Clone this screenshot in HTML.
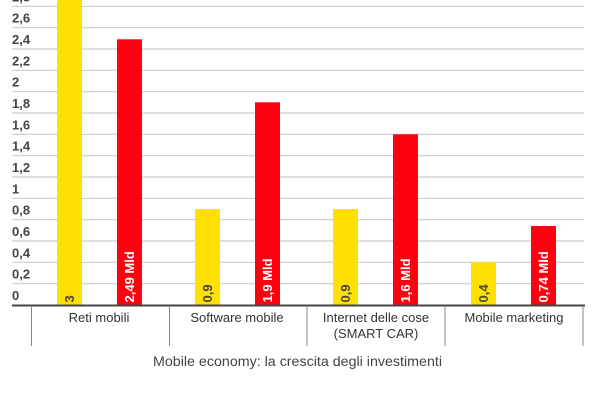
<!DOCTYPE html>
<html>
<head>
<meta charset="utf-8">
<style>
html,body{margin:0;padding:0;background:#fff;}
svg{display:block;}
text{font-family:"Liberation Sans",Arial,sans-serif;}
</style>
</head>
<body>
<svg width="600" height="400" viewBox="0 0 600 400" xmlns="http://www.w3.org/2000/svg">
<rect width="600" height="400" fill="#fff"/>
<!-- gridlines -->
<g stroke="#cccccc" stroke-width="1.2">
<line x1="12" y1="283.7" x2="584" y2="283.7"/>
<line x1="12" y1="262.3" x2="584" y2="262.3"/>
<line x1="12" y1="241" x2="584" y2="241"/>
<line x1="12" y1="219.7" x2="584" y2="219.7"/>
<line x1="12" y1="198.3" x2="584" y2="198.3"/>
<line x1="12" y1="177" x2="584" y2="177"/>
<line x1="12" y1="155.7" x2="584" y2="155.7"/>
<line x1="12" y1="134.3" x2="584" y2="134.3"/>
<line x1="12" y1="113" x2="584" y2="113"/>
<line x1="12" y1="91.7" x2="584" y2="91.7"/>
<line x1="12" y1="70.3" x2="584" y2="70.3"/>
<line x1="12" y1="49" x2="584" y2="49"/>
<line x1="12" y1="27.7" x2="584" y2="27.7"/>
<line x1="12" y1="6.3" x2="584" y2="6.3"/>
</g>
<!-- y labels -->
<g fill="#444" font-size="13" font-weight="bold">
<text x="12" y="300">0</text>
<text x="12" y="278.7">0,2</text>
<text x="12" y="257.3">0,4</text>
<text x="12" y="236">0,6</text>
<text x="12" y="214.7">0,8</text>
<text x="12" y="193.3">1</text>
<text x="12" y="172">1,2</text>
<text x="12" y="150.7">1,4</text>
<text x="12" y="129.3">1,6</text>
<text x="12" y="108">1,8</text>
<text x="12" y="86.7">2</text>
<text x="12" y="65.3">2,2</text>
<text x="12" y="44">2,4</text>
<text x="12" y="22.7">2,6</text>
<text x="12" y="1.3">2,8</text>
</g>
<!-- bars -->
<g>
<rect x="57" y="-15" width="25" height="320" fill="#ffe000"/>
<rect x="117" y="39.3" width="25" height="265.7" fill="#ff0010"/>
<rect x="195" y="209" width="25" height="96" fill="#ffe000"/>
<rect x="255" y="102.3" width="25" height="202.7" fill="#ff0010"/>
<rect x="333" y="209" width="25" height="96" fill="#ffe000"/>
<rect x="393" y="134.3" width="25" height="170.7" fill="#ff0010"/>
<rect x="471" y="262.3" width="25" height="42.7" fill="#ffe000"/>
<rect x="531" y="226" width="25" height="79" fill="#ff0010"/>
</g>
<!-- bar labels -->
<g font-size="13" font-weight="bold">
<text transform="translate(74,302.5) rotate(-90)" fill="#444">3</text>
<text transform="translate(134,302.5) rotate(-90)" fill="#fff">2,49 Mld</text>
<text transform="translate(212,302.5) rotate(-90)" fill="#444">0,9</text>
<text transform="translate(272,302.5) rotate(-90)" fill="#fff">1,9 Mld</text>
<text transform="translate(350,302.5) rotate(-90)" fill="#444">0,9</text>
<text transform="translate(410,302.5) rotate(-90)" fill="#fff">1,6 Mld</text>
<text transform="translate(488,302.5) rotate(-90)" fill="#444">0,4</text>
<text transform="translate(548,302.5) rotate(-90)" fill="#fff">0,74 Mld</text>
</g>
<!-- axis -->
<line x1="12" y1="305.5" x2="585" y2="305.5" stroke="#444" stroke-width="2"/>
<g stroke="#888" stroke-width="1">
<line x1="31.5" y1="306" x2="31.5" y2="346"/>
<line x1="169.5" y1="306" x2="169.5" y2="346"/>
<line x1="307" y1="306" x2="307" y2="346"/>
<line x1="445" y1="306" x2="445" y2="346"/>
<line x1="583" y1="306" x2="583" y2="346"/>
</g>
<!-- category labels -->
<g fill="#333" font-size="13" text-anchor="middle">
<text x="99" y="322">Reti mobili</text>
<text x="237" y="322">Software mobile</text>
<text x="376" y="322">Internet delle cose</text>
<text x="376" y="338">(SMART CAR)</text>
<text x="514" y="322">Mobile marketing</text>
</g>
<!-- title -->
<text x="153" y="366" fill="#444" font-size="14" textLength="289" lengthAdjust="spacingAndGlyphs">Mobile economy: la crescita degli investimenti</text>
<!-- legend dots peeking -->
<circle cx="240" cy="407" r="7" fill="#ffe000"/>
<circle cx="307" cy="407" r="7" fill="#ff0010"/>
</svg>
</body>
</html>
